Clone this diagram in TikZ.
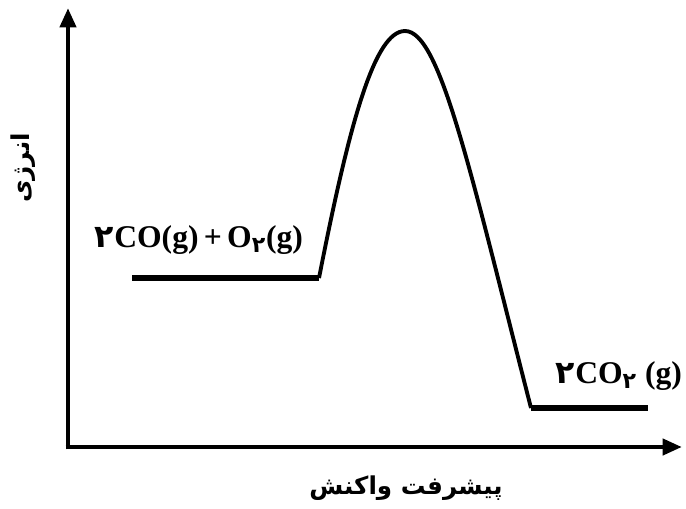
\documentclass[tikz,border=0pt]{standalone}
\usepackage{fontspec}
\setmainfont{Liberation Serif}
\newfontfamily\farsi[Script=Arabic]{DejaVu Sans}
\TeXXeTstate=1
\usetikzlibrary{arrows.meta}

\begin{document}
\begin{tikzpicture}[x=0.02cm,y=-0.02cm,
  axis/.style={line width=2.6pt,-{Triangle[length=11pt,width=9pt]}},
  level/.style={line width=3pt},
  hump/.style={line width=2.2pt,line join=round},
  chem/.style={font=\fontsize{18}{22}\selectfont\bfseries},
  fa/.style={font=\farsi\bfseries\fontsize{14}{18}\selectfont}]
\useasboundingbox (0,0) rectangle (686,508);
% axes
\coordinate (o) at (68,447);
\coordinate (ytip) at (68,8);
\coordinate (xtip) at (682,447);
\draw[axis] ([yshift=-1.3pt]o)--(ytip);
\draw[axis] ([xshift=-1.3pt]o)--(xtip);
\node[fa,rotate=90] (ylab) at (23,168) {\beginR انرژی\endR};
\node[fa] (xlab) at (406,488) {\beginR پیشرفت واکنش\endR};
% energy profile
\coordinate (r1) at (132,278);
\coordinate (r2) at (319,278);
\coordinate (ts) at (405,31);
\coordinate (p1) at (531,408);
\coordinate (p2) at (648,408);
\draw[level] (r1)--(r2);
\draw[hump] (r2) .. controls (350,120) and (375,31) .. (ts)
  .. controls (440,31) and (470,170) .. (p1);
\draw[level] (p1)--(p2);
\node[chem] (reac) at (199,240) {{\farsi ۲}CO(g)\,+\,O\textsubscript{\farsi ۲}(g)};
\node[chem,anchor=east,inner sep=1pt] (prod) at (684,376) {{\farsi ۲}CO\textsubscript{\farsi ۲} (g)};
\end{tikzpicture}
\end{document}
